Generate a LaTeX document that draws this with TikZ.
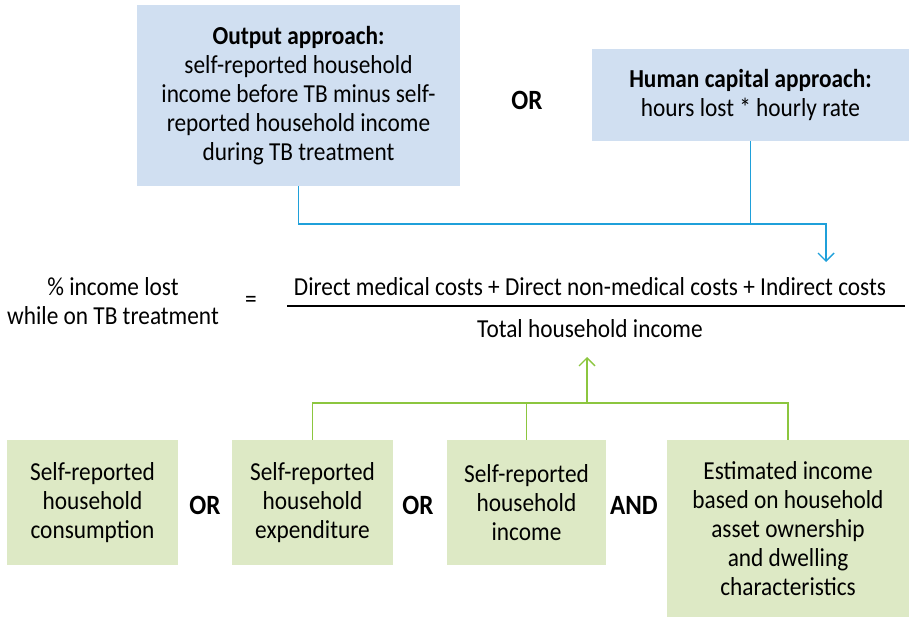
\documentclass[tikz,border=0pt]{standalone}
\usepackage{fontspec}
\setmainfont{Carlito}[FakeStretch=0.9]
\usetikzlibrary{arrows.meta}
\usetikzlibrary{positioning}

\definecolor{boxblue}{HTML}{D0DFF1}
\definecolor{boxgreen}{HTML}{DDE9C5}
\definecolor{lineblue}{HTML}{1FA0DA}
\definecolor{linegreen}{HTML}{8CC63F}

\tikzset{
  txt/.style={font=\fontsize{26}{29}\selectfont, align=center, inner sep=0pt},
  bluebox/.style={txt, fill=boxblue},
  greenbox/.style={txt, fill=boxgreen},
  logic/.style={txt, font=\fontsize{28}{29}\selectfont\bfseries},
  blueline/.style={draw=lineblue, line width=1.4bp},
  greenline/.style={draw=linegreen, line width=1.4bp},
  tip/.style={-{Straight Barb[length=8bp,width=16bp]}},
}

\begin{document}
\begin{tikzpicture}[x=1bp,y=-1bp]
        \useasboundingbox (0,0) rectangle (909,617);

        \node [bluebox, minimum width=323bp, minimum height=181bp] (outbox) at (298.5,95.5)
            {\textbf{Output approach:}\\self-reported household\\income before TB minus self-\\reported household income\\during TB treatment};
        \node [logic] (orA) at (527,100) {OR};
        \node [bluebox, minimum width=317bp, minimum height=92bp] (humbox) at (750.5,95)
            {\textbf{Human capital approach:}\\hours lost * hourly rate};

        \node [txt] (lhs) at (113,301) {\% income lost\\while on TB treatment};
        \node [txt] (eq) at (251,302) {=};
        \node [txt] (num) at (590,287) {Direct medical costs + Direct non-medical costs + Indirect costs};
        \node [txt] (den) at (590,329) {Total household income};
        \draw [line width=1.2bp] (287,306) -- (905,306);

        \node [greenbox, minimum width=171bp, minimum height=125bp] (cons) at (92.5,502.5)
            {Self-reported\\household\\consumption};
        \node [logic] (orB) at (205,505) {OR};
        \node [greenbox, minimum width=161bp, minimum height=125bp] (expend) at (312.5,502.5)
            {Self-reported\\household\\expenditure};
        \node [logic] (orC) at (418,505) {OR};
        \node [greenbox, minimum width=159bp, minimum height=125bp] (incm) at (526.5,502.5)
            {Self-reported\\household\\income};
        \node [logic] (andA) at (634,505) {AND};
        \node [greenbox, minimum width=242bp, minimum height=177bp] (est) at (788,528.5)
            {Estimated income\\based on household\\asset ownership\\and dwelling\\characteristics};

        % blue connectors
        \coordinate (bturn) at (826,224);
        \coordinate (btip) at (826,262);
        \draw [blueline, tip] (outbox.south) |- (bturn) -- (btip);
        \draw [blueline] (humbox.south) -- (humbox.south |- bturn);

        % green connectors
        \coordinate (gjoin) at (587,403);
        \coordinate (gtip) at (587,357);
        \draw [greenline] (expend.north) -- (expend.north |- gjoin) -- (est.north |- gjoin) -- (est.north);
        \draw [greenline] (incm.north) -- (incm.north |- gjoin);
        \draw [greenline, tip] (gjoin) -- (gtip);
\end{tikzpicture}
\end{document}
